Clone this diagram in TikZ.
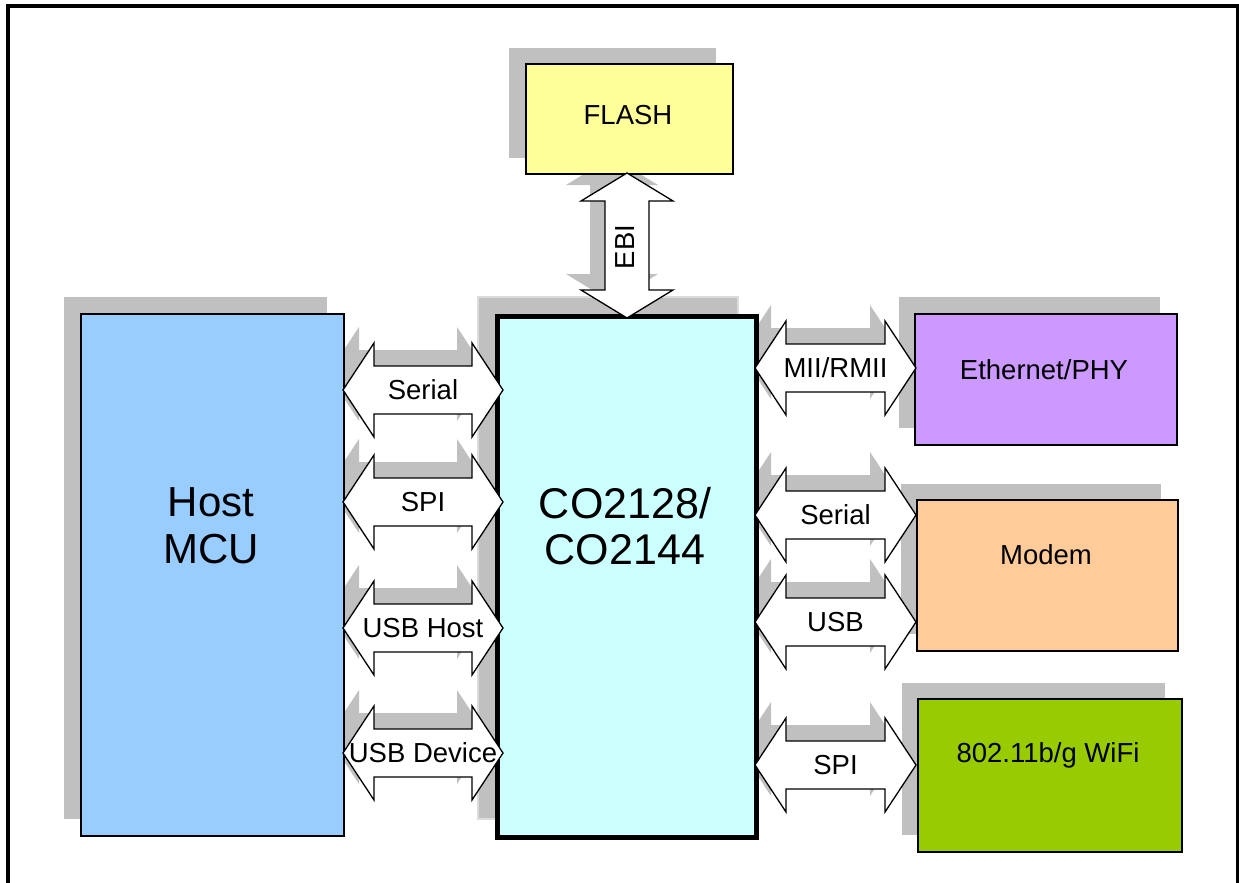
\documentclass[tikz,border=0pt]{standalone}
\usepackage{fontspec}
\setmainfont{Liberation Sans}
\pgfdeclarelayer{bg}
\pgfsetlayers{bg,main}
\definecolor{shadowgray}{HTML}{C0C0C0}
\definecolor{shadowedge}{HTML}{DCDCDC}
\definecolor{hostblue}{HTML}{99CCFF}
\definecolor{cocyan}{HTML}{CCFFFF}
\definecolor{flashyellow}{HTML}{FFFF99}
\definecolor{ethpurple}{HTML}{CC99FF}
\definecolor{modemorange}{HTML}{FFCC99}
\definecolor{wifigreen}{HTML}{99CC00}
\tikzset{
  box/.style={draw=black, line width=1.6pt, inner sep=0pt, anchor=north west},
  blockarrow/.style={draw=black, fill=white, line width=1.3pt, line join=miter},
  lbl/.style={font=\fontsize{27.5}{31}\selectfont, inner sep=0pt},
  bigtxt/.style={align=center, inner sep=0pt},
}
% horizontal double block arrow: x1, x2, yc, name, label
\newcommand\HArrow[5]{%
  \begin{pgfonlayer}{bg}
  \fill[shadowgray, shift={(-15,-16)}] (#1,#3) -- ({#1+31},{#3-47}) -- ({#1+31},{#3-24}) -- ({#2-31},{#3-24}) -- ({#2-31},{#3-47}) -- (#2,#3) -- ({#2-31},{#3+47}) -- ({#2-31},{#3+24}) -- ({#1+31},{#3+24}) -- ({#1+31},{#3+47}) -- cycle;
  \end{pgfonlayer}
  \draw[blockarrow] (#1,#3) -- ({#1+31},{#3-47}) -- ({#1+31},{#3-24}) -- ({#2-31},{#3-24}) -- ({#2-31},{#3-47}) -- (#2,#3) -- ({#2-31},{#3+47}) -- ({#2-31},{#3+24}) -- ({#1+31},{#3+24}) -- ({#1+31},{#3+47}) -- cycle;
  \node[lbl] (#4) at ({(#1+#2)/2},#3) {#5};
}
\begin{document}
\begin{tikzpicture}[x=1pt,y=-1pt]
\useasboundingbox (0,0) rectangle (1239,883);
% outer frame
\draw[line width=3.5pt] (8,890) -- (8,6) -- (1238,6) -- (1238,890);

% shadows of boxes
\begin{pgfonlayer}{bg}
\fill[shadowgray] (509,48) rectangle (716,158);
\fill[shadowgray] (64,297) rectangle (327,819);
\filldraw[shadowgray, draw=shadowedge, line width=1.5pt] (478,297) rectangle (738,819);
\fill[shadowgray] (899,297) rectangle (1160,428);
\fill[shadowgray] (901,484) rectangle (1161,634);
\fill[shadowgray] (902,683) rectangle (1165,835);
\end{pgfonlayer}

% boxes
\node[box, fill=flashyellow, minimum width=207pt, minimum height=110pt] (flash) at (525,63) {};
\node[box, fill=hostblue, minimum width=263pt, minimum height=522pt] (host) at (80,313) {};
\node[box, fill=cocyan, line width=5pt, minimum width=259pt, minimum height=521pt] (co) at (495,314) {};
\node[box, fill=ethpurple, minimum width=262pt, minimum height=131pt] (eth) at (914,313) {};
\node[box, fill=modemorange, minimum width=261pt, minimum height=151pt] (modem) at (916,499) {};
\node[box, fill=wifigreen, minimum width=264pt, minimum height=153pt] (wifi) at (917,698) {};

% box texts
\node[lbl] (flashtxt) at (628,115) {FLASH};
\node[bigtxt, font=\fontsize{42}{47}\selectfont] (hosttxt) at (211,526) {Host\\MCU};
\node[bigtxt, font=\fontsize{43}{46}\selectfont] (cotxt) at (625,526) {CO2128/\\CO2144};
\node[lbl] (ethtxt) at (1044,370) {Ethernet/PHY};
\node[lbl] (modemtxt) at (1046,555) {Modem};
\node[lbl] (wifitxt) at (1048,755) {802.11b/g WiFi};

% left arrows (Host MCU <-> CO2128)
\HArrow{343}{503}{390}{aserial}{Serial}
\HArrow{343}{503}{502}{aspi}{SPI}
\HArrow{343}{503}{628}{ausbh}{USB Host}
\HArrow{343}{503}{753}{ausbd}{USB Device}
% right arrows
\HArrow{755}{916}{368}{amii}{MII/RMII}
\HArrow{755}{916}{515}{aserr}{Serial}
\HArrow{755}{916}{622}{ausb}{USB}
\HArrow{755}{916}{765}{aspir}{SPI}

% EBI vertical arrow (FLASH <-> CO2128)
\begin{pgfonlayer}{bg}
\fill[shadowgray, shift={(-15,-16)}] (627,173) -- (673,201) -- (649,201) -- (649,290) -- (673,290) -- (627,318) -- (581,290) -- (605,290) -- (605,201) -- (581,201) -- cycle;
\end{pgfonlayer}
\draw[blockarrow] (627,173) -- (673,201) -- (649,201) -- (649,290) -- (673,290) -- (627,318) -- (581,290) -- (605,290) -- (605,201) -- (581,201) -- cycle;
\node[lbl, rotate=90] (ebi) at (625,247) {EBI};
\end{tikzpicture}
\end{document}
